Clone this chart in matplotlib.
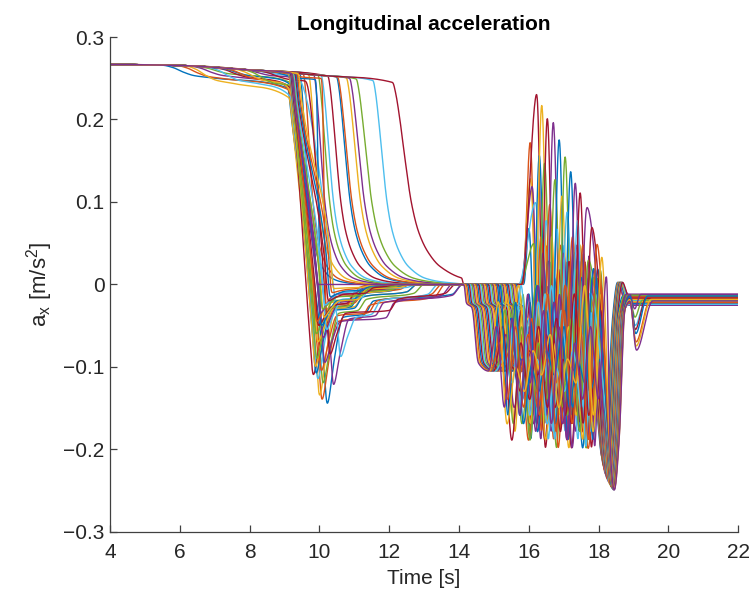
import numpy as np
import matplotlib
matplotlib.use("Agg")
import matplotlib.pyplot as plt

plt.rcParams["font.family"] = ["Liberation Sans", "DejaVu Sans"]
plt.rcParams["mathtext.fontset"] = "custom"
plt.rcParams["mathtext.rm"] = "Liberation Sans"
plt.rcParams["mathtext.it"] = "Liberation Sans"

# ---------------------------------------------------------------- data
# shared cruise level before any braking  (time [s], a_x [m/s^2])
cruise_t = [4.0, 6.0, 8.0, 10.0, 12.2]
cruise_a = [0.2667, 0.2655, 0.2600, 0.2535, 0.2445]

# vehicles braking late at the first stop, decaying to zero
late_brake_t = [9.45, 9.55, 9.70, 9.85, 9.97, 10.06, 10.25, 10.50, 10.53,
                10.78, 10.87, 11.06, 11.54, 12.10]
late_decay_scale = [0.6, 0.65, 0.7, 0.75, 0.8, 0.85, 0.9, 0.95, 1.0, 1.0,
                    1.05, 1.1, 1.0, 1.35]
decay_dt = [0.0, 0.06, 0.15, 0.25, 0.40, 0.55, 0.75, 1.00, 1.50, 2.00, 3.00]
decay_frac = [1.0, 0.95, 0.82, 0.64, 0.40, 0.26, 0.16, 0.09, 0.03, 0.012,
              0.0]

# vehicles braking at ~9.2 s and undershooting below zero
dip_brake_t = [9.10, 9.12, 9.14, 9.15, 9.16, 9.17, 9.18, 9.18, 9.19, 9.20,
               9.20, 9.21, 9.22, 9.22, 9.23, 9.24, 9.12, 9.14, 9.15, 9.16,
               9.17, 9.19, 9.20, 9.21, 9.23, 9.25, 9.27, 9.30, 9.33, 9.36,
               9.40, 9.20]
nan = float("nan")
sag_t = [5.5, 5.9, 6.15, 6.3, 6.5, 6.8, 7.0, 7.07, 7.24, 7.53, 7.72, 7.8,
         7.92, 8.2, 8.5, 8.67] + [nan] * 16
sag_a = [0.238, 0.236, 0.226, 0.240, 0.245, 0.228, 0.238, 0.242, 0.234,
         0.230, 0.244, 0.224, 0.248, 0.236, 0.240, 0.243] + [nan] * 16
dip_t = [10.22, 10.07, 10.00, 10.40, 10.10, 9.95, 9.82, 9.90, 10.05, 9.88,
         10.15, 9.92, 10.60, 10.30, 9.85, 10.00, 9.95, 10.10, 9.90, 10.20,
         9.97, 10.05, 9.92, 10.12, 10.02, 10.08, 10.15, 10.25, 10.30, 10.35,
         10.40, 9.95]
dip_a = [-0.145, -0.140, -0.135, -0.122, -0.120, -0.115, -0.110, -0.108,
         -0.105, -0.100, -0.095, -0.090, -0.088, -0.085, -0.080, -0.075,
         -0.070, -0.065, -0.060, -0.055, -0.050, -0.050, -0.045, -0.040,
         -0.035, -0.030, -0.025, -0.020, -0.015, -0.010, -0.005, 0.0]
hold1_a = [-0.040, -0.045, -0.030, -0.042, -0.035, -0.025, -0.028, -0.032,
           -0.038, -0.022, -0.045, -0.020, -0.040, -0.035, -0.030, -0.025,
           -0.030, -0.022, -0.028, -0.018, -0.025, -0.020, -0.015, -0.020,
           -0.012, -0.015, -0.010, -0.012, -0.008, -0.006, -0.004, 0.0]
hold1_end = [11.3, 11.2, 11.0, 11.6, 11.1, 10.9, 10.8, 11.0, 11.4, 10.8,
             11.9, 10.9, 11.5, 12.0, 10.9, 11.0, 10.8, 11.0, 10.9, 11.2,
             10.8, 11.0, 10.9, 11.1, 11.0, 11.2, 11.0, 11.3, 11.2, 11.0,
             11.2, 11.0]
hold2_a = [-0.020, -0.025, -0.015, -0.022, -0.018, -0.010, -0.012, -0.015,
           -0.020, -0.008, -0.022, -0.008, -0.020, -0.018, -0.012, -0.010,
           -0.012, -0.008, -0.010, -0.006, -0.008, -0.006, -0.005, -0.006,
           -0.004, -0.004, -0.003, -0.004, -0.002, -0.002, -0.001, 0.0]
zero_t = [14.1, 13.6, 12.8, 14.1, 13.0, 12.5, 12.3, 12.8, 13.5, 12.0, 13.8,
          12.2, 13.4, 13.9, 12.4, 12.6, 12.3, 12.5, 12.4, 12.8, 12.2, 12.5,
          12.0, 12.6, 12.0, 12.4, 11.8, 12.2, 12.0, 11.6, 11.8, 11.0]

# second stop: start of deceleration, main peak, final dip, end level
stop2_t = 14.1
onset_t = [15.86, 15.83, 15.80, 15.77, 15.74, 15.71, 15.80, 15.66, 15.62,
           15.58, 15.54, 15.50, 15.46, 15.42, 15.38, 15.34, 15.30, 15.26,
           15.22, 15.18, 15.14, 15.10, 15.06, 15.02, 14.98, 14.94, 14.90,
           14.86, 14.82, 14.78, 14.74, 14.70, 14.66, 14.62, 14.58, 14.54,
           14.50, 14.46, 14.42, 14.38, 14.34, 14.30, 14.26, 14.22, 14.18,
           14.15]
peak_t = [16.00, 16.04, 16.05, 16.10, 16.15, 16.20, 16.23, 16.30, 16.35,
          16.37, 16.40, 16.45, 16.50, 16.53, 16.55, 16.60, 16.65, 16.70,
          16.75, 16.80, 16.85, 16.87, 16.90, 16.95, 17.00, 17.04, 17.10,
          17.15, 17.20, 17.25, 17.30, 17.33, 17.35, 17.40, 17.47, 17.50,
          17.55, 17.60, 17.66, 17.70, 17.75, 17.80, 17.85, 17.95, 18.09,
          18.23]
peak_a = [0.070, 0.175, 0.130, 0.120, 0.050, 0.100, 0.232, 0.160, 0.060,
          0.221, 0.040, 0.150, 0.080, 0.205, 0.030, 0.100, 0.060, 0.200,
          0.130, 0.070, 0.020, 0.179, 0.050, 0.110, 0.040, 0.158, 0.090,
          0.030, 0.140, 0.060, -0.010, 0.126, 0.020, 0.080, 0.114, 0.010,
          0.050, 0.000, 0.094, 0.030, -0.010, 0.070, 0.020, 0.050, 0.035,
          0.013]
fdip_t = [18.10, 18.12, 18.13, 18.14, 18.15, 18.16, 18.17, 18.18, 18.19,
          18.20, 18.21, 18.22, 18.23, 18.24, 18.25, 18.26, 18.27, 18.28,
          18.29, 18.30, 18.31, 18.32, 18.32, 18.33, 18.34, 18.35, 18.35,
          18.36, 18.37, 18.37, 18.38, 18.38, 18.39, 18.39, 18.40, 18.40,
          18.41, 18.41, 18.42, 18.42, 18.43, 18.43, 18.44, 18.44, 18.45,
          18.45]
fdip_a = [-0.210, -0.215, -0.212, -0.220, -0.222, -0.218, -0.226, -0.224,
          -0.230, -0.228, -0.232, -0.230, -0.235, -0.236, -0.234, -0.238,
          -0.236, -0.240, -0.238, -0.241, -0.240, -0.242, -0.243, -0.244,
          -0.243, -0.245, -0.244, -0.246, -0.245, -0.247, -0.246, -0.247,
          -0.248, -0.247, -0.248, -0.249, -0.248, -0.249, -0.250, -0.249,
          -0.250, -0.249, -0.250, -0.250, -0.249, -0.250]
end_a = [-0.014, -0.022, -0.018, -0.025, -0.013, -0.020, -0.016, -0.023,
         -0.015, -0.021, -0.012, -0.019, -0.024, -0.017, -0.014, -0.022,
         -0.018, -0.025, -0.013, -0.020, -0.016, -0.023, -0.015, -0.021,
         -0.012, -0.019, -0.024, -0.017, -0.014, -0.022, -0.018, -0.025,
         -0.013, -0.020, -0.016, -0.023, -0.015, -0.021, -0.012, -0.019,
         -0.024, -0.017, -0.014, -0.022, -0.018, -0.020]
# short extra dip after the stop for the last vehicles
dip2_a = [0.0] * 38 + [-0.030, -0.040, -0.050, -0.055, -0.060, -0.070,
                       -0.075, -0.080]
dip2_t = [0.0] * 38 + [19.03, 19.04, 19.05, 19.05, 19.06, 19.07, 19.07,
                       19.08]
dip2_back = [0.0] * 38 + [19.20, 19.25, 19.30, 19.35, 19.40, 19.45, 19.50,
                          19.55]

# oscillation crests/troughs during the stop-and-go phase
crest_pre = [-0.04, -0.08, -0.01, -0.06, -0.03, -0.09, -0.05, 0.00, -0.07,
             -0.02, -0.05, -0.10]
trough_pre = [-0.13, -0.16, -0.11, -0.18, -0.15, -0.17, -0.12, -0.19, -0.16,
              -0.14, -0.17, -0.15]
crest_post = [0.02, -0.03, 0.05, -0.01, 0.00, -0.06, 0.03, -0.02, 0.01,
              -0.05, 0.04]
trough_post = [-0.16, -0.18, -0.14, -0.19, -0.17, -0.15, -0.20, -0.16,
               -0.13]

# MATLAB default line colours
line_colors = ["#0072BD", "#D95319", "#EDB120", "#7E2F8E", "#77AC30",
               "#4DBEEE", "#A2142F"]

# ---------------------------------------------------------------- helpers
dt = 0.005
t = np.arange(4.0, 22.0 + dt / 2, dt)


def cruise(x):
    return float(np.interp(x, cruise_t, cruise_a))


def pchip(xk, yk, x):
    """Shape-preserving piecewise cubic through the key points."""
    xk = np.asarray(xk, float)
    yk = np.asarray(yk, float)
    h = np.diff(xk)
    d = np.diff(yk) / h
    m = np.zeros_like(yk)
    for k in range(1, len(xk) - 1):
        if d[k - 1] * d[k] > 0:
            w1 = 2 * h[k] + h[k - 1]
            w2 = h[k] + 2 * h[k - 1]
            m[k] = (w1 + w2) / (w1 / d[k - 1] + w2 / d[k])
    idx = np.clip(np.searchsorted(xk, x) - 1, 0, len(xk) - 2)
    s = (x - xk[idx]) / h[idx]
    h00 = 2 * s ** 3 - 3 * s ** 2 + 1
    h10 = s ** 3 - 2 * s ** 2 + s
    h01 = -2 * s ** 3 + 3 * s ** 2
    h11 = s ** 3 - s ** 2
    return (h00 * yk[idx] + h10 * h[idx] * m[idx] + h01 * yk[idx + 1]
            + h11 * h[idx] * m[idx + 1])


def curve_from(points):
    xs, ys = [], []
    for x, y in points:
        if not xs or x > xs[-1] + 1e-6:
            xs.append(x)
            ys.append(y)
    return pchip(xs, ys, t)


def smooth(y, sigma=0.015):
    n = int(4 * sigma / dt)
    k = np.exp(-0.5 * (np.arange(-n, n + 1) * dt / sigma) ** 2)
    k /= k.sum()
    ypad = np.concatenate([np.full(n, y[0]), y, np.full(n, y[-1])])
    return np.convolve(ypad, k, mode="valid")


def first_stop_late(i):
    td = late_brake_t[i]
    sc = late_decay_scale[i]
    lvl = cruise(td)
    pts = [(x, cruise(x)) for x in cruise_t if x < td - 0.3]
    pts.append((td, lvl))
    for ddt, fr in zip(decay_dt[1:], decay_frac[1:]):
        pts.append((td + sc * ddt, lvl * fr))
    pts.append((22.0, 0.0))
    return curve_from(pts)


def first_stop_dip(j):
    bt = dip_brake_t[j]
    if not np.isnan(sag_t[j]):
        s0 = sag_t[j]
        c0 = cruise(s0)
        dl = c0 - sag_a[j]
        pts = [(x, cruise(x)) for x in cruise_t if x < s0 - 0.3]
        pts += [(s0, c0), (s0 + 0.3, c0 - 0.1 * dl), (s0 + 0.6, c0 - 0.3 * dl),
                (s0 + 0.9, c0 - 0.45 * dl), (s0 + 1.4, c0 - 0.55 * dl)]
        lvl = sag_a[j]
    else:
        pts = [(x, cruise(x)) for x in cruise_t if x < bt - 0.3]
        lvl = cruise(bt)
    da, dtm = dip_a[j], dip_t[j]
    pts.append((bt, lvl))
    pts.append((bt + 0.08, lvl - 0.03))
    pts.append((dtm - 0.1, da + 0.05))
    pts.append((dtm, da))
    pts.append((dtm + 0.2, 0.5 * (da + hold1_a[j])))
    pts.append((dtm + 0.45, hold1_a[j]))
    pts.append((hold1_end[j], 0.9 * hold1_a[j]))
    pts.append((hold1_end[j] + 0.25, hold2_a[j]))
    pts.append((zero_t[j] - 0.3, 0.6 * hold2_a[j]))
    pts.append((zero_t[j], 0.0))
    pts.append((22.0, 0.0))
    return curve_from(pts)


def alternate(t0, t1, n, first_is_crest, crests, troughs, k):
    pts = []
    step = (t1 - t0) / n
    for m in range(1, n):
        is_crest = (m % 2 == 1) == first_is_crest
        src = crests if is_crest else troughs
        pts.append((t0 + m * step, src[(k + m) % len(src)]))
    return pts


def second_stop(k):
    s, p, h = onset_t[k], peak_t[k], peak_a[k]
    f, d, L = fdip_t[k], fdip_a[k], end_a[k]
    pts = [(stop2_t - 0.5, 0.0), (stop2_t, 0.0), (s, 0.0)]
    gap = p - s
    if gap >= 0.5:
        pts += [(s + 0.05, -0.022), (s + 0.22, -0.028)]
        if gap >= 1.1:
            pts += [(s + 0.4, -0.095), (s + 0.7, -0.105)]
            t0, t1 = s + 0.7, p - 0.24
            n = int(round((t1 - t0) / 0.25))
            n = max(2, n + (n % 2))
            pts += alternate(t0, t1, n, True, crest_pre, trough_pre, k)
        pts.append((p - 0.24, trough_pre[k % len(trough_pre)]))
    pts.append((p, h))
    if f - p > 0.8:
        t0, t1 = p + 0.24, f - 0.34
        pts.append((t0, trough_post[k % len(trough_post)]))
        n = int(round((t1 - t0) / 0.25))
        n = max(1, n + (1 - n % 2))
        pts += alternate(t0, t1, n, True, crest_post, trough_post, k)
        pts.append((t1, crest_post[(k + 3) % len(crest_post)] - 0.03))
    pts.append((f - 0.12, 0.8 * d))
    pts.append((f, d))
    pts.append((f + 0.14, 0.75 * d))
    if dip2_a[k] < 0:
        pts += [(f + 0.3, -0.03), (18.9, L), (dip2_t[k], dip2_a[k]),
                (dip2_back[k], L)]
    else:
        over = 0.003 if f < 18.25 else L
        pts += [(f + 0.3, -0.04), (f + 0.44, over), (f + 0.64, L)]
    pts.append((22.0, L))
    return curve_from(pts)


# ---------------------------------------------------------------- curves
n_late = len(late_brake_t)
n_dip = len(dip_brake_t)
curves = []
for i in range(n_late + n_dip):
    if i < n_late:
        a1 = first_stop_late(i)
    else:
        a1 = first_stop_dip(i - n_late)
    a2 = second_stop(i)
    a = np.where(t < stop2_t, a1, a2)
    curves.append(smooth(a))

# ---------------------------------------------------------------- figure
fig = plt.figure(figsize=(7.51, 5.97), dpi=100)
ax = fig.add_axes([0.1465, 0.109, 0.8365, 0.829])
for i, a in enumerate(curves):
    ax.plot(t, a, color=line_colors[i % len(line_colors)], lw=1.0)

ax.set_xlim(4, 22)
ax.set_ylim(-0.3, 0.3)
ax.set_xticks(np.arange(4, 23, 2))
ax.set_yticks(np.round(np.arange(-0.3, 0.31, 0.1), 1))
ax.set_yticklabels(["\u22120.3", "\u22120.2", "\u22120.1", "0", "0.1",
                    "0.2", "0.3"])
for side in ("top", "right"):
    ax.spines[side].set_visible(False)
for side in ("left", "bottom"):
    ax.spines[side].set_color("#404040")
    ax.spines[side].set_linewidth(0.9)
ax.tick_params(direction="in", length=5, width=0.9, color="#404040",
               labelcolor="#262626", labelsize=15)
ax.tick_params(axis="y", pad=4)
ax.tick_params(axis="x", pad=8)
ax.set_xlabel("Time [s]", fontsize=15, color="#262626", labelpad=5)
ax.set_ylabel(r"a$_\mathregular{x}$ [m/s$^\mathregular{2}$]", fontsize=16,
              color="#262626", labelpad=6)
ax.set_title("Longitudinal acceleration", fontsize=15, fontweight="bold",
             pad=5)

fig.savefig("out.png", dpi=100)
